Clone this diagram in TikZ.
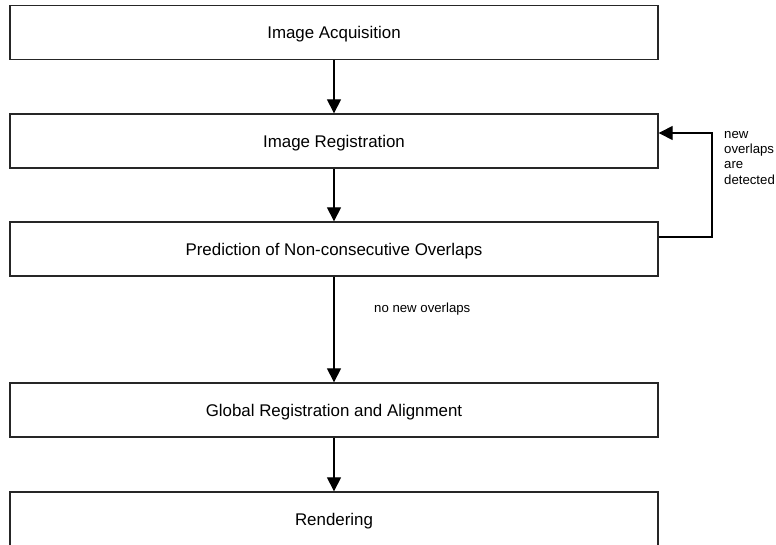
\documentclass[tikz,border=0pt]{standalone}
\usepackage{fontspec}
\setmainfont{Liberation Sans}
\usetikzlibrary{arrows.meta,calc}
\begin{document}
\begin{tikzpicture}[x=1pt,y=-1pt,
  stagebox/.style={draw=black!85,line width=1.3pt,rectangle,minimum width=648pt,minimum height=54pt,inner sep=0pt,text height=13pt,text depth=0.5pt,font=\fontsize{16.9}{19}\selectfont},
  flowarrow/.style={draw=black,line width=1.1pt,-{Triangle[width=14pt,length=14pt]}},
  smalllabel/.style={font=\fontsize{13.2}{15.3}\selectfont,inner sep=0pt}]
\useasboundingbox (0,0) rectangle (776,544);
\node[stagebox] (b1) at (334,32.5) {Image Acquisition};
\node[stagebox] (b2) at (334,141) {Image Registration};
\node[stagebox] (b3) at (334,249) {Prediction of Non-consecutive Overlaps};
\node[stagebox] (b4) at (334,410) {Global Registration and Alignment};
\node[stagebox] (b5) at (334,519) {Rendering};
\draw[flowarrow] (b1) -- (b2);
\draw[flowarrow] (b2) -- (b3);
\draw[flowarrow] (b3) -- (b4);
\draw[flowarrow] (b4) -- (b5);
\coordinate (loopstart) at ($(b3.east)+(0,-12)$);
\coordinate (loopend) at ($(b2.east)+(0,-8)$);
\draw[flowarrow] (loopstart) -- (712,237) -- (712,133) -- (loopend);
\node[smalllabel,anchor=west] (nonew) at (374,309) {no new overlaps};
\node[smalllabel,anchor=north west,align=left] (newdet) at (724,131) {new\\overlaps\\are\\detected};
\end{tikzpicture}
\end{document}
